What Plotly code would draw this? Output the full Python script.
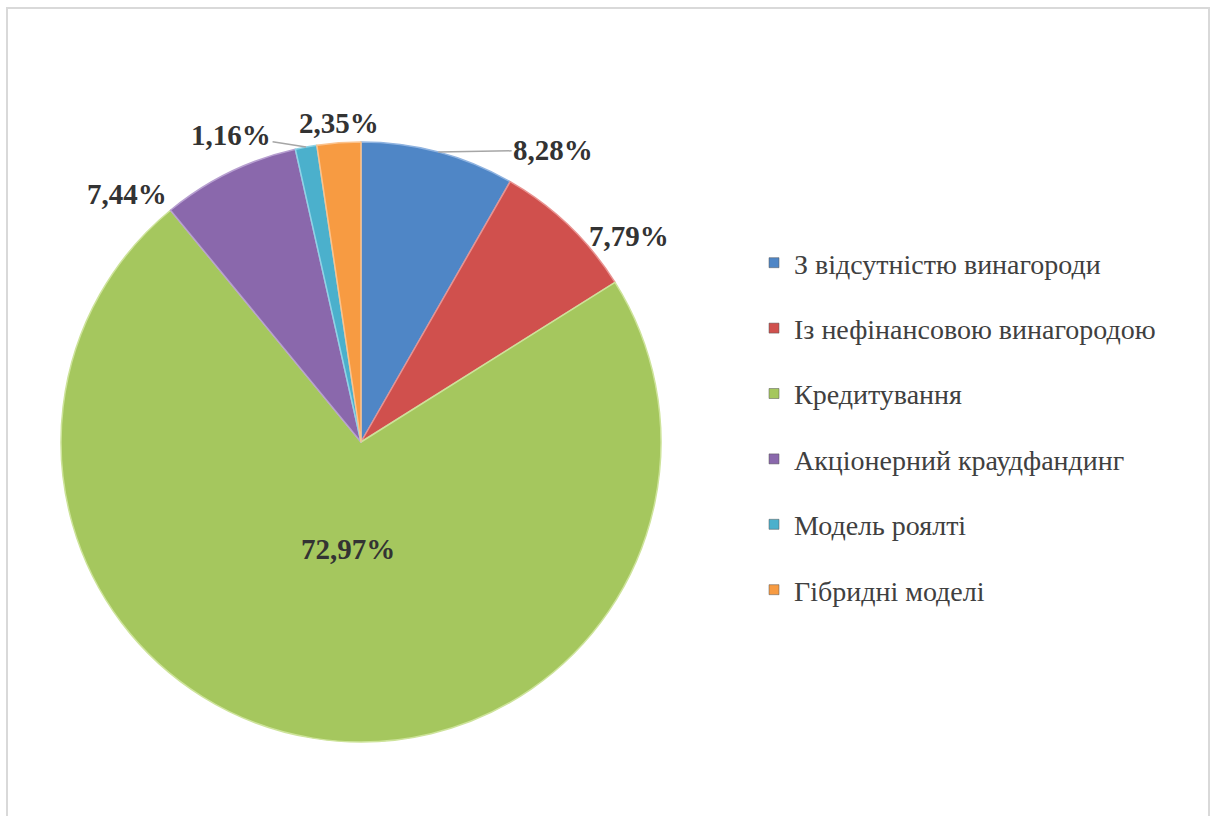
import math
import plotly.graph_objects as go

# Share of crowdfunding volume by model, %
categories = [
    "З відсутністю винагороди",
    "Із нефінансовою винагородою",
    "Кредитування",
    "Акціонерний краудфандинг",
    "Модель роялті",
    "Гібридні моделі",
]
shares = [8.28, 7.79, 72.97, 7.44, 1.16, 2.35]

colors = ["#4f86c6", "#d0504d", "#a5c75e", "#8a68ac", "#4bb0cc", "#f79b42"]
edge_colors = ["#8fb3e0", "#e89290", "#cde39a", "#b79fd0", "#8fd3e6", "#fbc28c"]

SERIF = "Liberation Serif"
W, H = 1211, 816

# Pie placement in pixels (circle inside its domain)
CX, CY, R = 361, 442, 300
dom_x = [(CX - R) / W, (CX + R) / W]
dom_y = [(H - CY - R) / H, (H - CY + R) / H]


def fmt(v):
    return f"{v:.2f}".replace(".", ",") + "%"


fig = go.Figure()

fig.add_trace(go.Pie(
    labels=categories,
    values=shares,
    sort=False,
    direction="clockwise",
    rotation=0,
    marker=dict(colors=colors, line=dict(color=edge_colors, width=1.5)),
    textinfo="none",
    domain=dict(x=dom_x, y=dom_y),
    showlegend=False,
    hoverinfo="label+percent",
))

# Percentage labels anchored on each slice's mid-angle
total = sum(shares)
label_style = [
    # (radius factor, arrow, ax, ay, xanchor, yanchor, xshift, yshift)
    (1.0, True, 115, -2, "center", "middle", 0, 0),
    (1.0, False, 0, 0, "left", "middle", 18, -10),
    (0.36, False, 0, 0, "center", "middle", 4, 0),
    (1.0, False, 0, 0, "right", "middle", -60, -22),
    (1.0, True, -75, -12, "center", "middle", 0, 0),
    (1.0, False, 0, 0, "center", "bottom", 0, 2),
]
cum = 0.0
for v, st in zip(shares, label_style):
    mid = (cum + v / 2) / total * 2 * math.pi
    cum += v
    rf, arrow, ax, ay, xa, ya, xs, ys = st
    px = CX + rf * R * math.sin(mid)
    py = CY - rf * R * math.cos(mid)
    fig.add_annotation(
        x=px / W, y=1 - py / H, xref="paper", yref="paper",
        text=fmt(v),
        showarrow=arrow, arrowhead=0, arrowwidth=1.5, arrowcolor="#a6a6a6",
        ax=ax, ay=ay, standoff=0,
        xanchor=xa, yanchor=ya, xshift=xs, yshift=ys,
        font=dict(family=SERIF, size=29, color="#333333", weight="bold"),
    )

# Legend entries: one square marker per category, each in its own group for spacing
for name, col in zip(categories, colors):
    fig.add_trace(go.Scatter(
        x=[None], y=[None],
        mode="markers",
        name=name,
        legendgroup=name,
        marker=dict(symbol="square", size=10, color=col,
                    line=dict(color="#555555", width=0.5)),
        showlegend=True,
    ))

fig.update_layout(
    width=W, height=H,
    margin=dict(l=0, r=0, t=0, b=0),
    paper_bgcolor="white",
    plot_bgcolor="white",
    font=dict(family=SERIF),
    xaxis=dict(visible=False),
    yaxis=dict(visible=False),
    legend=dict(
        x=754 / W, y=1 - 238 / H,
        xanchor="left", yanchor="top",
        font=dict(family=SERIF, size=28, color="#404040"),
        tracegroupgap=26,
        itemwidth=30,
        bgcolor="rgba(0,0,0,0)",
    ),
    shapes=[
        dict(type="rect", xref="paper", yref="paper",
             x0=7 / W, x1=1209 / W, y0=-0.02, y1=1 - 8 / H,
             line=dict(color="#d9d9d9", width=2), fillcolor="rgba(0,0,0,0)",
             layer="below"),
    ],
)

fig.write_html("out.html")
